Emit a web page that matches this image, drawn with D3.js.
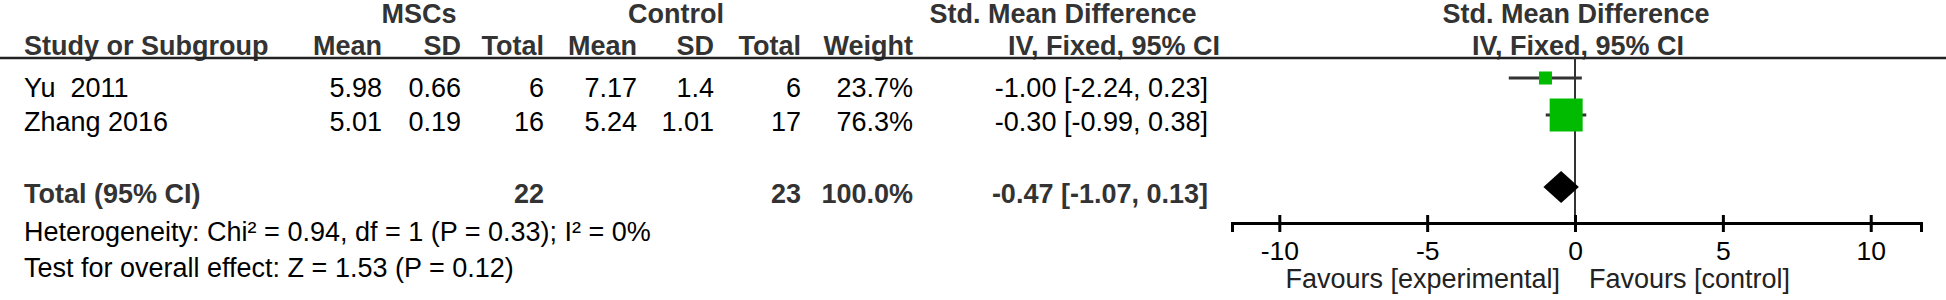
<!DOCTYPE html>
<html>
<head>
<meta charset="utf-8">
<script src="https://cdn.jsdelivr.net/npm/d3@7"></script>
<style>
  body { margin: 0; background: #fff; }
  text { font-family: "Liberation Sans", Arial, sans-serif; white-space: pre; }
</style>
</head>
<body>
<div id="chart"></div>
<script>
// study data
var studies  = ["Yu  2011", "Zhang 2016"];
var mscMean  = [5.98, 5.01];
var mscSD    = [0.66, 0.19];
var mscTotal = [6, 16];
var ctlMean  = [7.17, 5.24];
var ctlSD    = [1.4, 1.01];
var ctlTotal = [6, 17];
var weights  = [23.7, 76.3];
var smd      = [-1.00, -0.30];
var ciLow    = [-2.24, -0.99];
var ciHigh   = [0.23, 0.38];

// pooled result
var pooledTotals = [22, 23];
var pooledWeight = 100.0;
var pooledSmd    = [-0.47, -1.07, 0.13];   // estimate, lower, upper

var xTicks   = [-10, -5, 0, 5, 10];
var favours  = ["Favours [experimental]", "Favours [control]"];
var hetText    = "Heterogeneity: Chi\u00b2 = 0.94, df = 1 (P = 0.33); I\u00b2 = 0%";
var effectText = "Test for overall effect: Z = 1.53 (P = 0.12)";

var width = 1946, height = 300;
var fs = 27;

var svg = d3.select("#chart").append("svg")
    .attr("width", width)
    .attr("height", height);

function label(s, x, y, anchor, bold, color, size) {
  return svg.append("text")
      .attr("x", x)
      .attr("y", y)
      .attr("text-anchor", anchor || "start")
      .attr("font-weight", bold ? "bold" : "normal")
      .attr("fill", color || "#000")
      .style("font-size", (size || fs) + "px")
      .text(s);
}

// plain hyphen for negatives, like the original
var loc = d3.formatLocale({decimal: ".", thousands: ",", grouping: [3], currency: ["", ""], minus: "-"});
var f2 = loc.format(".2f"), f1 = loc.format(".1f");
function ciText(e, lo, hi) { return f2(e) + " [" + f2(lo) + ", " + f2(hi) + "]"; }

// column right edges of the table
var col = {mMean: 382, mSD: 461, mTot: 544, cMean: 637, cSD: 714, cTot: 801, wt: 913, ci: 1208};
var left = 24;
var rowText = [97, 131], rowMark = [78, 115];
var yTotal = 203, yDiamond = 187, yHet = 241, yEff = 277;
var yH1 = 23, yH2 = 55, yRule = 58, axisY = 223;

// header
var hc = "#333";
label("MSCs", 419, yH1, "middle", true, hc);
label("Control", 676, yH1, "middle", true, hc);
label("Std. Mean Difference", 1063, yH1, "middle", true, hc);
label("Std. Mean Difference", 1576, yH1, "middle", true, hc);
label("Study or Subgroup", left, yH2, "start", true, hc);
label("Mean", col.mMean, yH2, "end", true, hc);
label("SD", col.mSD, yH2, "end", true, hc);
label("Total", col.mTot, yH2, "end", true, hc);
label("Mean", col.cMean, yH2, "end", true, hc);
label("SD", col.cSD, yH2, "end", true, hc);
label("Total", col.cTot, yH2, "end", true, hc);
label("Weight", col.wt, yH2, "end", true, hc);
label("IV, Fixed, 95% CI", 1220, yH2, "end", true, hc);
label("IV, Fixed, 95% CI", 1578, yH2, "middle", true, hc);

svg.append("line")
    .attr("x1", 0).attr("x2", width)
    .attr("y1", yRule).attr("y2", yRule)
    .attr("stroke", "#222").attr("stroke-width", 2.5);

// study rows
studies.forEach(function(s, i) {
  var y = rowText[i];
  label(s, left, y, "start");
  label(String(mscMean[i]), col.mMean, y, "end");
  label(String(mscSD[i]), col.mSD, y, "end");
  label(String(mscTotal[i]), col.mTot, y, "end");
  label(String(ctlMean[i]), col.cMean, y, "end");
  label(String(ctlSD[i]), col.cSD, y, "end");
  label(String(ctlTotal[i]), col.cTot, y, "end");
  label(f1(weights[i]) + "%", col.wt, y, "end");
  label(ciText(smd[i], ciLow[i], ciHigh[i]), col.ci, y, "end");
});

// total row
label("Total (95% CI)", left, yTotal, "start", true, hc);
label(String(pooledTotals[0]), col.mTot, yTotal, "end", true, hc);
label(String(pooledTotals[1]), col.cTot, yTotal, "end", true, hc);
label(f1(pooledWeight) + "%", col.wt, yTotal, "end", true, hc);
label(ciText(pooledSmd[0], pooledSmd[1], pooledSmd[2]), col.ci, yTotal, "end", true, hc);
label(hetText, left, yHet, "start");
label(effectText, left, yEff, "start");

// forest plot
var x = d3.scaleLinear().domain([-11.6, 11.7]).range([1232, 1921]);
var box = d3.scaleLinear().domain([0, 100]).range([4, 42]);

// line of no effect
svg.append("line")
    .attr("x1", x(0)).attr("x2", x(0))
    .attr("y1", yRule).attr("y2", axisY)
    .attr("stroke", "#333").attr("stroke-width", 2);

// confidence intervals
svg.selectAll(".ci").data(studies).enter().append("line")
    .attr("class", "ci")
    .attr("x1", function(d, i) { return x(ciLow[i]); })
    .attr("x2", function(d, i) { return x(ciHigh[i]); })
    .attr("y1", function(d, i) { return rowMark[i]; })
    .attr("y2", function(d, i) { return rowMark[i]; })
    .attr("stroke", "#333").attr("stroke-width", 3);

// weighted squares
svg.selectAll(".sq").data(studies).enter().append("rect")
    .attr("class", "sq")
    .attr("x", function(d, i) { return x(smd[i]) - box(weights[i]) / 2; })
    .attr("y", function(d, i) { return rowMark[i] - box(weights[i]) / 2; })
    .attr("width", function(d, i) { return box(weights[i]); })
    .attr("height", function(d, i) { return box(weights[i]); })
    .attr("fill", "#00bb00");

// pooled diamond
svg.append("path")
    .attr("d", "M" + x(pooledSmd[1]) + "," + yDiamond +
               "L" + x(pooledSmd[0]) + "," + (yDiamond - 16) +
               "L" + x(pooledSmd[2]) + "," + yDiamond +
               "L" + x(pooledSmd[0]) + "," + (yDiamond + 16) + "Z")
    .attr("fill", "#000");

// x axis
var axis = svg.append("g")
    .attr("transform", "translate(0," + axisY + ")")
    .call(d3.axisBottom(x).tickValues(xTicks).tickFormat(function(d) { return String(d); })
          .tickSizeOuter(0).tickSize(9));
axis.select(".domain").attr("stroke", "#000").attr("stroke-width", 3);
axis.selectAll(".tick line").attr("y1", -8).attr("y2", 9).attr("stroke", "#000").attr("stroke-width", 3);
axis.selectAll(".tick text")
    .attr("fill", "#000")
    .attr("font-family", null)
    .attr("dy", null)
    .attr("y", 37)
    .style("font-size", "26.5px");

label(favours[0], x(0) - 15, 288, "end", false, "#222");
label(favours[1], x(0) + 14, 288, "start", false, "#222");
</script>
</body>
</html>
